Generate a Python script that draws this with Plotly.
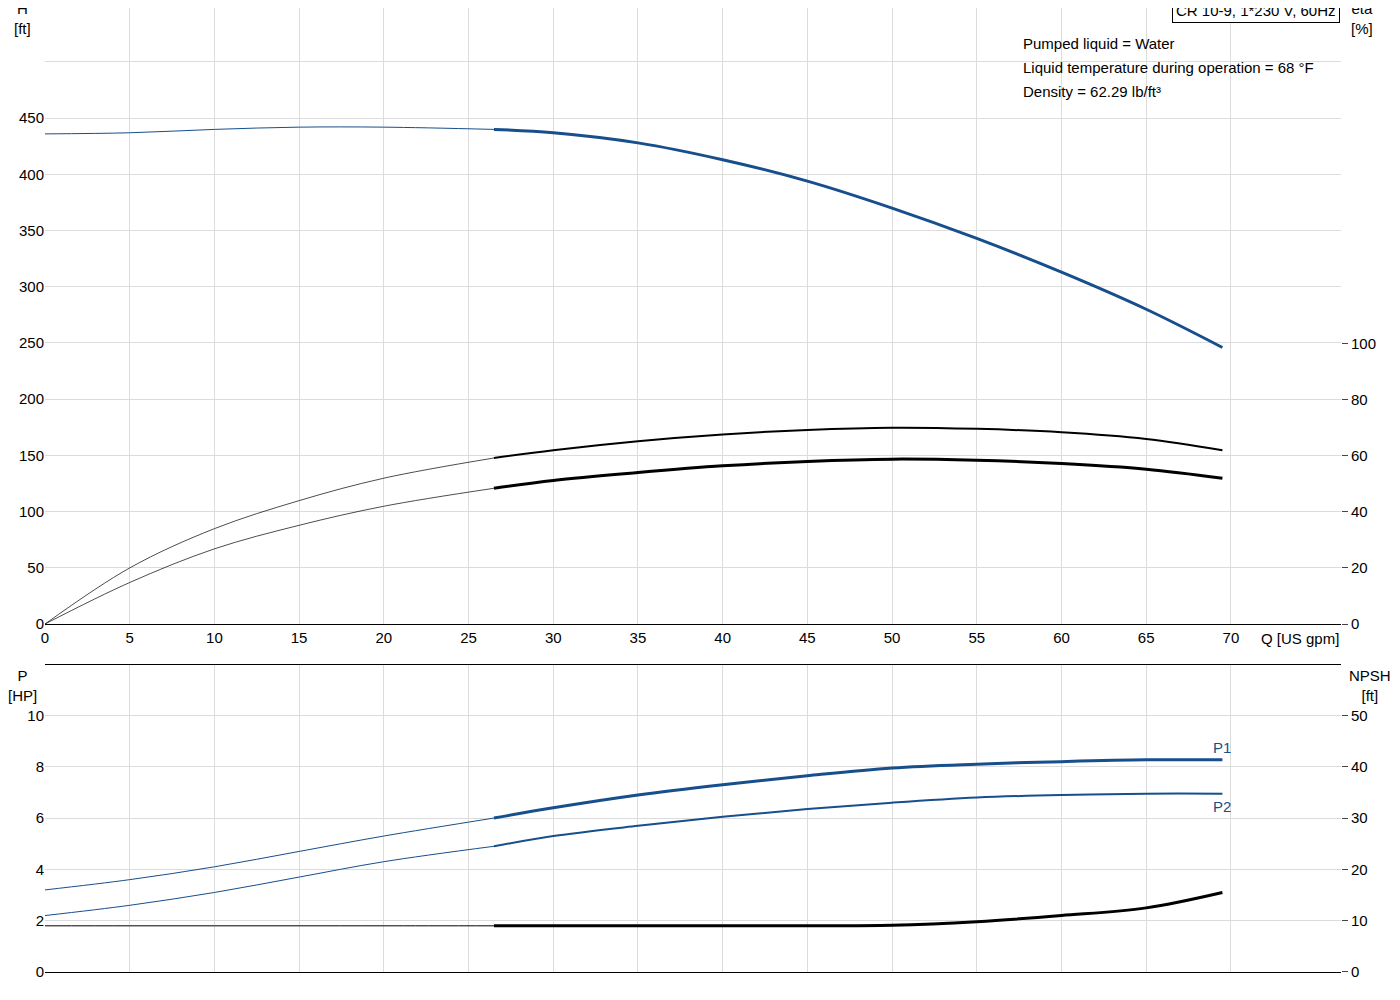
import plotly.graph_objects as go

# flow points [US gpm]
q = [0, 5, 10, 15, 20, 26.5, 30, 35, 40, 45, 50, 55, 60, 65, 69.5]
head = [436, 437, 440, 442, 442, 440, 437, 428, 413, 394, 370, 343, 313, 280, 246]
eta_upper = [0, 20, 34, 44, 52, 59.2, 62, 65.2, 67.6, 69.2, 70, 69.6, 68.4, 66, 62]
eta_lower = [0, 14.8, 26.8, 35.2, 42, 48.4, 51.2, 54, 56.4, 58, 58.8, 58.4, 57.2, 55.2, 52]
p1 = [3.2, 3.6, 4.1, 4.7, 5.3, 6.0, 6.4, 6.9, 7.3, 7.65, 7.95, 8.1, 8.2, 8.27, 8.27]
p2 = [2.2, 2.6, 3.1, 3.7, 4.3, 4.9, 5.3, 5.7, 6.05, 6.35, 6.6, 6.8, 6.9, 6.95, 6.95]
npsh = [9, 9, 9, 9, 9, 9, 9, 9, 9, 9, 9.1, 9.8, 11, 12.5, 15.5]
q_ticks = [0, 5, 10, 15, 20, 25, 30, 35, 40, 45, 50, 55, 60, 65, 70]

SPLIT = 5  # index of 26.5 gpm, start of the operating range
BLUE = "#174e8c"
FONT = "Liberation Sans"

fig = go.Figure()


def add_curve(y, color, thin_w, thick_w, xa, ya):
    fig.add_trace(go.Scatter(x=q[:SPLIT + 1], y=y[:SPLIT + 1], mode="lines",
                             line=dict(color=color, width=thin_w, shape="spline"),
                             xaxis=xa, yaxis=ya, showlegend=False))
    fig.add_trace(go.Scatter(x=q[SPLIT:], y=y[SPLIT:], mode="lines",
                             line=dict(color=color, width=thick_w, shape="spline"),
                             xaxis=xa, yaxis=ya, showlegend=False))


add_curve(head, BLUE, 1, 3, "x", "y")
add_curve(eta_upper, "black", 0.7, 2, "x", "y2")
add_curve(eta_lower, "black", 0.7, 3, "x", "y2")
add_curve(p1, BLUE, 1, 3, "x2", "y3")
add_curve(p2, BLUE, 1, 2, "x2", "y3")
add_curve(npsh, "black", 1, 3, "x2", "y4")

grid = "#dcdcdc"
xcommon = dict(range=[0, 76.5], tickvals=q_ticks, showgrid=True, gridcolor=grid, zeroline=False,
               showline=True, linecolor="black", mirror=True, ticks="")
fig.update_layout(
    width=1400, height=1000, plot_bgcolor="white", paper_bgcolor="white",
    margin=dict(l=37, r=67, t=0, b=36),
    font=dict(family=FONT, size=15, color="black"),
    xaxis=dict(**xcommon, domain=[0, 1], anchor="y"),
    yaxis=dict(domain=[0.361, 1], range=[0, 548], showgrid=True, gridcolor=grid,
               zeroline=False, tickvals=[0, 50, 100, 150, 200, 250, 300, 350, 400, 450, 500],
               ticktext=["0", "50", "100", "150", "200", "250", "300", "350", "400", "450", ""]),
    yaxis2=dict(overlaying="y", side="right", range=[0, 219.7], tickvals=[0, 20, 40, 60, 80, 100],
                showgrid=False, zeroline=False, ticks="outside", ticklen=6, anchor="x"),
    xaxis2=dict(**xcommon, domain=[0, 1], anchor="y3", showticklabels=False),
    yaxis3=dict(domain=[0, 0.318], range=[0, 11.95], showgrid=True, gridcolor=grid,
                zeroline=False, anchor="x2", tickvals=[0, 2, 4, 6, 8, 10]),
    yaxis4=dict(overlaying="y3", side="right", range=[0, 59.75], tickvals=[0, 10, 20, 30, 40, 50],
                showgrid=False, zeroline=False, ticks="outside", ticklen=6, anchor="x2"),
)

ann = [
    dict(x=-0.017, y=1.01, text="H<br>[ft]", xanchor="center", yanchor="top"),
    dict(x=1.016, y=1.01, text="eta<br>[%]", xanchor="center", yanchor="top"),
    dict(x=1.0, y=0.361, text="Q [US gpm]", xanchor="right", yanchor="top", yshift=-4),
    dict(x=-0.017, y=0.318, text="P<br>[HP]", xanchor="center", yanchor="top"),
    dict(x=1.022, y=0.318, text="NPSH<br>[ft]", xanchor="center", yanchor="top"),
    dict(x=0.753, y=0.963, text="Pumped liquid = Water", xanchor="left", yanchor="middle"),
    dict(x=0.753, y=0.938, text="Liquid temperature during operation = 68 °F", xanchor="left", yanchor="middle"),
    dict(x=0.753, y=0.913, text="Density = 62.29 lb/ft³", xanchor="left", yanchor="middle"),
    dict(x=0.999, y=1.01, text="CR 10-9, 1*230 V, 60Hz", xanchor="right", yanchor="top",
         bordercolor="black", borderwidth=1, borderpad=3, bgcolor="white"),
]
for a in ann:
    fig.add_annotation(xref="paper", yref="paper", showarrow=False, align="center",
                       font=dict(family=FONT, size=15, color="black"), **a)

fig.add_annotation(x=q[-1], y=p1[-1], xref="x2", yref="y3", text="P1", showarrow=False,
                   xanchor="center", yanchor="bottom", yshift=2, font=dict(color=BLUE, size=15))
fig.add_annotation(x=q[-1], y=p2[-1], xref="x2", yref="y3", text="P2", showarrow=False,
                   xanchor="center", yanchor="top", yshift=-2, font=dict(color=BLUE, size=15))

fig.write_html("out.html")
